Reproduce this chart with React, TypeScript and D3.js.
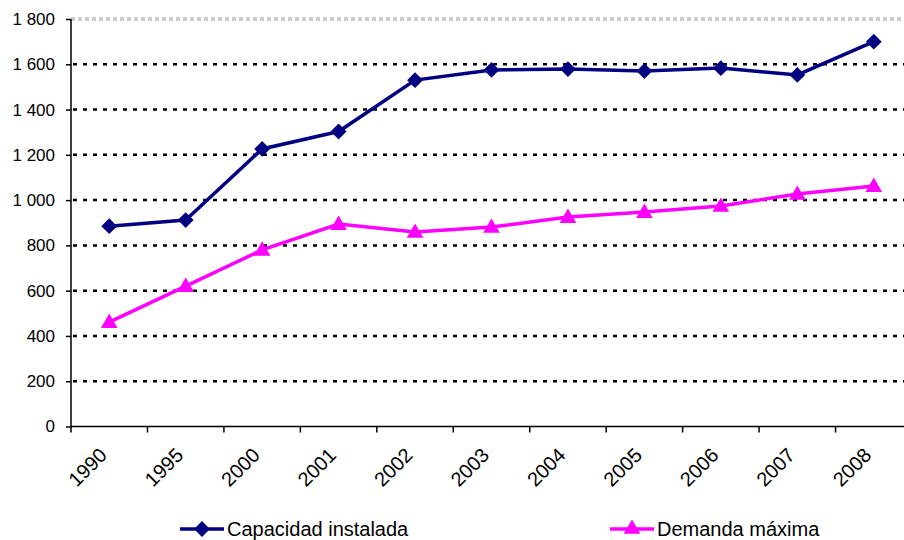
import * as d3 from 'd3';
import React, { useEffect, useRef } from 'react';

const years = ['1990', '1995', '2000', '2001', '2002', '2003', '2004', '2005', '2006', '2007', '2008'];
const capacidad = [885, 912, 1226, 1303, 1530, 1575, 1579, 1570, 1583, 1553, 1700];
const demanda = [461, 620, 780, 894, 859, 881, 925, 947, 974, 1027, 1062];
const yTicks = [0, 200, 400, 600, 800, 1000, 1200, 1400, 1600, 1800];

const W = 904;
const H = 540;
const FONT = 'Liberation Sans, Arial, sans-serif';

const App: React.FC = () => {
  const svgRef = useRef<SVGSVGElement>(null);

  useEffect(() => {
    if (!svgRef.current) return;
    const svg = d3.select(svgRef.current);
    svg.selectAll('*').remove();

    const left = 71;
    const right = 912;
    const top = 19;
    const bottom = 426.5;

    const x = d3.scaleBand().domain(years).range([left, right]);
    const y = d3.scaleLinear().domain([0, 1800]).range([bottom, top]);
    const cx = (d: string) => (x(d) || 0) + x.bandwidth() / 2;

    // top border (gray double dashed)
    [y(1800) - 1, y(1800) + 1].forEach(yy => {
      svg.append('line')
        .attr('x1', left).attr('x2', W)
        .attr('y1', yy).attr('y2', yy)
        .attr('stroke', '#9a9a9a')
        .attr('stroke-width', 1)
        .attr('stroke-dasharray', '4,3');
    });

    // dotted gridlines
    svg.append('g')
      .selectAll('line')
      .data(yTicks.filter(t => t > 0 && t < 1800))
      .join('line')
      .attr('x1', left + 2).attr('x2', W)
      .attr('y1', d => y(d)).attr('y2', d => y(d))
      .attr('stroke', '#000')
      .attr('stroke-width', 2.5)
      .attr('stroke-dasharray', '4,6');

    // y axis
    const yAxis = svg.append('g')
      .attr('transform', `translate(${left},0)`)
      .call(d3.axisLeft(y).tickValues(yTicks).tickSize(5).tickPadding(11)
        .tickFormat(d => d3.format(',')(d as number).replace(/,/g, ' ')));
    yAxis.select('.domain').attr('stroke', '#000').attr('stroke-width', 1.5).attr('d', `M0,${top}V${bottom}`);
    yAxis.selectAll('.tick line').attr('stroke', '#000').attr('stroke-width', 1.5);
    yAxis.selectAll('text')
      .attr('font-family', FONT)
      .attr('font-size', '17px')
      .attr('fill', '#000');

    // x axis
    const xAxis = svg.append('g').attr('transform', `translate(0,${bottom})`);
    xAxis.append('line')
      .attr('x1', left).attr('x2', W)
      .attr('stroke', '#000').attr('stroke-width', 1.5);
    xAxis.selectAll('line.tick')
      .data(years)
      .join('line')
      .attr('class', 'tick')
      .attr('x1', d => x(d) || 0).attr('x2', d => x(d) || 0)
      .attr('y1', 0).attr('y2', 6)
      .attr('stroke', '#000').attr('stroke-width', 1.5);
    xAxis.selectAll('text')
      .data(years)
      .join('text')
      .attr('transform', d => `translate(${cx(d) - 11},${20}) rotate(-45)`)
      .attr('text-anchor', 'end')
      .attr('dy', '0.7em')
      .attr('font-family', FONT)
      .attr('font-size', '20px')
      .attr('fill', '#000')
      .text(d => d);

    const line = d3.line<number>()
      .x((_, i) => cx(years[i]))
      .y(d => y(d));

    const diamond = d3.symbol().type(d3.symbolSquare).size(125);
    const triangle = d3.symbol().type(d3.symbolTriangle).size(120);

    // Capacidad instalada
    svg.append('path')
      .datum(capacidad)
      .attr('d', line)
      .attr('fill', 'none')
      .attr('stroke', '#000080')
      .attr('stroke-width', 3.5);
    svg.selectAll('path.cap')
      .data(capacidad)
      .join('path')
      .attr('class', 'cap')
      .attr('d', diamond)
      .attr('transform', (d, i) => `translate(${cx(years[i])},${y(d)}) rotate(45)`)
      .attr('fill', '#000080');

    // Demanda máxima
    svg.append('path')
      .datum(demanda)
      .attr('d', line)
      .attr('fill', 'none')
      .attr('stroke', '#FF00FF')
      .attr('stroke-width', 3.5);
    svg.selectAll('path.dem')
      .data(demanda)
      .join('path')
      .attr('class', 'dem')
      .attr('d', triangle)
      .attr('transform', (d, i) => `translate(${cx(years[i])},${y(d) + 1})`)
      .attr('fill', '#FF00FF');

    // legend
    const legend = [
      { label: 'Capacidad instalada', color: '#000080', sym: diamond, rot: 45, x0: 180 },
      { label: 'Demanda máxima', color: '#FF00FF', sym: triangle, rot: 0, x0: 610 }
    ];
    const ly = 529;
    legend.forEach(item => {
      const g = svg.append('g');
      g.append('line')
        .attr('x1', item.x0).attr('x2', item.x0 + 44)
        .attr('y1', ly).attr('y2', ly)
        .attr('stroke', item.color).attr('stroke-width', 3.5);
      g.append('path')
        .attr('d', item.sym)
        .attr('transform', `translate(${item.x0 + 22},${ly}) rotate(${item.rot})`)
        .attr('fill', item.color);
      g.append('text')
        .attr('x', item.x0 + 47)
        .attr('y', ly)
        .attr('dy', '0.36em')
        .attr('font-family', FONT)
        .attr('font-size', '20px')
        .attr('fill', '#000')
        .text(item.label);
    });
  }, []);

  return (
    <svg
      ref={svgRef}
      width={W}
      height={H}
      style={{ position: 'absolute', left: 0, top: 0, background: '#fff' }}
    />
  );
};

export default App;
